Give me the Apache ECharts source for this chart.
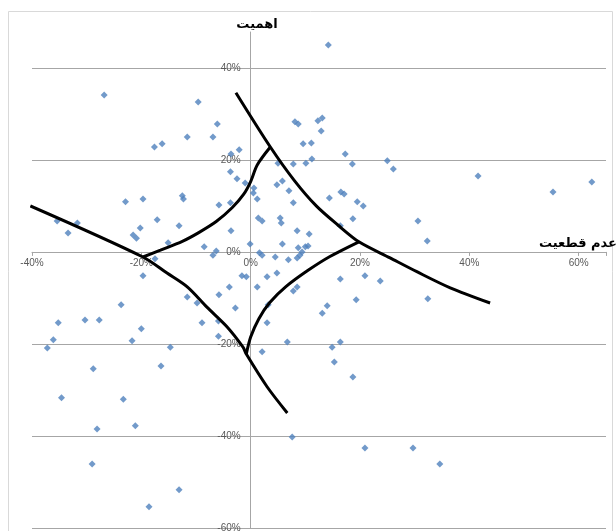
<!DOCTYPE html>
<html>
<head>
<meta charset="utf-8">
<script src="https://cdn.jsdelivr.net/npm/echarts@6/dist/echarts.min.js"></script>
<style>
html,body{margin:0;padding:0;background:#fff;}
#chart{width:616px;height:531px;}
</style>
</head>
<body>
<div id="chart"></div>
<script>
// x = عدم قطعیت (%), y = اهمیت (%)
const pointsX = [
 -26.8,-9.6,-6.1,-6.9,-11.6,-16.2,-17.6,-2.1,-3.6,-3.7,-2.5,-1.0,-12.5,-12.3,-22.9,-19.7,-5.8,-3.7,-17.1,-13.1,
 -35.4,-31.7,-33.4,-20.2,-21.5,-20.9,-15.1,-3.6,-0.1,-8.5,-6.3,-6.9,
 14.2,8.1,8.7,12.3,13.1,12.9,9.6,11.1,5.0,7.8,10.1,11.2,17.3,18.6,25.0,26.1,41.6,55.3,62.4,
 4.8,5.8,7.0,0.6,0.5,1.2,7.8,14.4,16.5,17.1,19.5,20.6,1.4,2.1,5.4,5.6,18.7,30.6,32.3,16.4,8.5,10.7,
 5.8,8.7,9.4,10.0,10.5,8.5,9.0,1.6,2.1,4.5,6.9,
 -17.5,-19.7,-11.6,-9.8,-23.7,-35.2,-30.3,-27.7,-20.0,-8.9,-5.8,-3.9,-1.6,-0.8,-2.8,-5.9,-5.9,-21.7,-36.1,-37.2,
 -14.7,-28.8,-16.4,-34.6,-23.3,-28.1,-21.1,-29.0,-13.1,-18.6,
 1.2,3.0,4.8,7.8,8.5,3.2,3.0,2.1,6.7,7.6,16.4,20.9,23.7,19.3,32.4,14.0,13.1,16.4,14.9,15.3,18.7,20.9,29.7,34.6
];
const pointsY = [
 34.1,32.6,27.8,25.0,25.0,23.5,22.8,22.2,21.3,17.4,15.9,15.0,12.2,11.5,10.9,11.5,10.2,10.7,7.0,5.7,
 6.7,6.3,4.1,5.2,3.7,3.0,2.0,4.6,1.7,1.1,0.2,-0.7,
 45.0,28.3,27.8,28.5,29.1,26.3,23.5,23.7,19.3,19.1,19.3,20.2,21.3,19.1,19.8,18.0,16.5,13.0,15.2,
 14.6,15.4,13.3,13.9,12.8,11.5,10.7,11.7,13.0,12.6,10.9,10.0,7.4,6.7,7.4,6.3,7.2,6.7,2.4,5.7,4.6,3.9,
 1.7,0.9,0.0,1.1,1.3,-1.3,-0.7,-0.2,-0.7,-1.1,-1.7,
 -1.5,-5.2,-9.8,-11.1,-11.5,-15.4,-14.8,-14.8,-16.7,-15.4,-9.3,-7.6,-5.2,-5.4,-12.2,-15.0,-18.3,-19.3,-19.1,-20.9,
 -20.7,-25.4,-24.8,-31.7,-32.0,-38.5,-37.8,-46.1,-51.7,-55.4,
 -7.6,-5.4,-4.6,-8.5,-7.6,-11.5,-15.4,-21.7,-19.6,-40.2,-5.9,-5.2,-6.3,-10.4,-10.2,-11.7,-13.3,-19.6,-20.7,-23.9,-27.2,-42.6,-42.6,-46.1
];
// black hand-drawn curves (x %, y %)
const curveA = [[-2.7,34.6],[3.6,22.8],[8.0,15.5],[12.0,10.0],[16.0,5.8],[19.8,2.2],[25.5,-1.3],[30.4,-4.3],[36.5,-7.8],[43.8,-11.1]];
const curveB = [[-40.3,10.0],[-19.7,-1.1],[-15.3,-4.6],[-11.6,-7.6],[-8.0,-12.0],[-4.3,-16.3],[-1.4,-20.7],[-0.8,-22.2],[3.0,-29.3],[6.7,-35.0]];
const curveC = [[3.6,22.8],[1.2,18.9],[0.0,15.3],[-1.3,12.5],[-3.4,9.6],[-6.3,6.6],[-9.5,4.2],[-12.5,2.3],[-16.5,0.4],[-19.7,-1.1]];
const curveD = [[-0.8,-22.2],[0.0,-18.5],[1.5,-14.5],[3.5,-11.0],[6.5,-7.5],[10.5,-4.0],[14.5,-1.0],[19.8,2.2]];
const xTicks = [-40,-20,0,20,40,60];
const yTicks = [-60,-40,-20,0,20,40];
const xTitle = 'عدم قطعیت';
const yTitle = 'اهمیت';

const X_MIN = -40, X_MAX = 65, Y_MIN = -60, Y_MAX = 47.8;
const G_LEFT = 32, G_RIGHT = 10, G_TOP = 32, G_BOTTOM = 3, W = 616, H = 531;
const plotH = H - G_TOP - G_BOTTOM;
const plotW = W - G_LEFT - G_RIGHT;
const zeroY = G_TOP + (Y_MAX - 0) / (Y_MAX - Y_MIN) * plotH;
const zeroX = G_LEFT + (0 - X_MIN) / (X_MAX - X_MIN) * plotW;
const xAxisOffset = -((H - G_BOTTOM) - zeroY);
const yAxisOffset = -(zeroX - G_LEFT);

const scatterData = pointsX.map((x,i)=>[x,pointsY[i]]);
const fmt = (ticks)=> (v)=> ticks.indexOf(Math.round(v*100)/100) >= 0 ? v + '%' : '';

const chart = echarts.init(document.getElementById('chart'), null, {renderer:'canvas'});
const lineStyle = {color:'#000', width:3};
const mkLine = (d)=>({type:'line', data:d, showSymbol:false, smooth:0.3, lineStyle:lineStyle, z:5, silent:true, animation:false});
chart.setOption({
  animation:false,
  backgroundColor:'#fff',
  grid:{left:G_LEFT, right:G_RIGHT, top:G_TOP, bottom:G_BOTTOM, containLabel:false, outerBoundsMode:'none'},
  xAxis:{
    type:'value', min:X_MIN, max:X_MAX, interval:20, position:'bottom', offset:xAxisOffset,
    axisLine:{onZero:false, lineStyle:{color:'#a6a6a6', width:1}},
    axisTick:{show:true, length:4, inside:false, lineStyle:{color:'#a6a6a6'}},
    axisLabel:{formatter:fmt(xTicks), margin:6, fontSize:10, color:'#595959', fontFamily:'Liberation Sans'},
    splitLine:{show:false}
  },
  yAxis:{
    type:'value', min:Y_MIN, max:Y_MAX, interval:20, position:'left', offset:yAxisOffset,
    axisLine:{onZero:false, lineStyle:{color:'#a6a6a6', width:1}},
    axisTick:{show:false},
    axisLabel:{formatter:fmt(yTicks), margin:10, fontSize:10, color:'#595959', fontFamily:'Liberation Sans'},
    splitLine:{show:true, showMaxLine:false, lineStyle:{color:'#a6a6a6', width:1}}
  },
  series:[
    {type:'scatter', data:scatterData, symbol:'diamond', symbolSize:7, itemStyle:{color:'#4F81BD'}, z:3},
    mkLine(curveA), mkLine(curveB), mkLine(curveC), mkLine(curveD)
  ],
  graphic:[
    {type:'rect', silent:true, shape:{x:8.5, y:11.5, width:604, height:600}, style:{fill:null, stroke:'#d9d9d9', lineWidth:1}, z:-1},
    {type:'text', silent:true, x:257, y:25, style:{text:yTitle, font:'bold 13px "DejaVu Sans"', fill:'#000', align:'center', verticalAlign:'middle'}},
    {type:'text', silent:true, x:617, y:244, style:{text:xTitle, font:'bold 13px "DejaVu Sans"', fill:'#000', align:'right', verticalAlign:'middle'}}
  ]
});
</script>
</body>
</html>
